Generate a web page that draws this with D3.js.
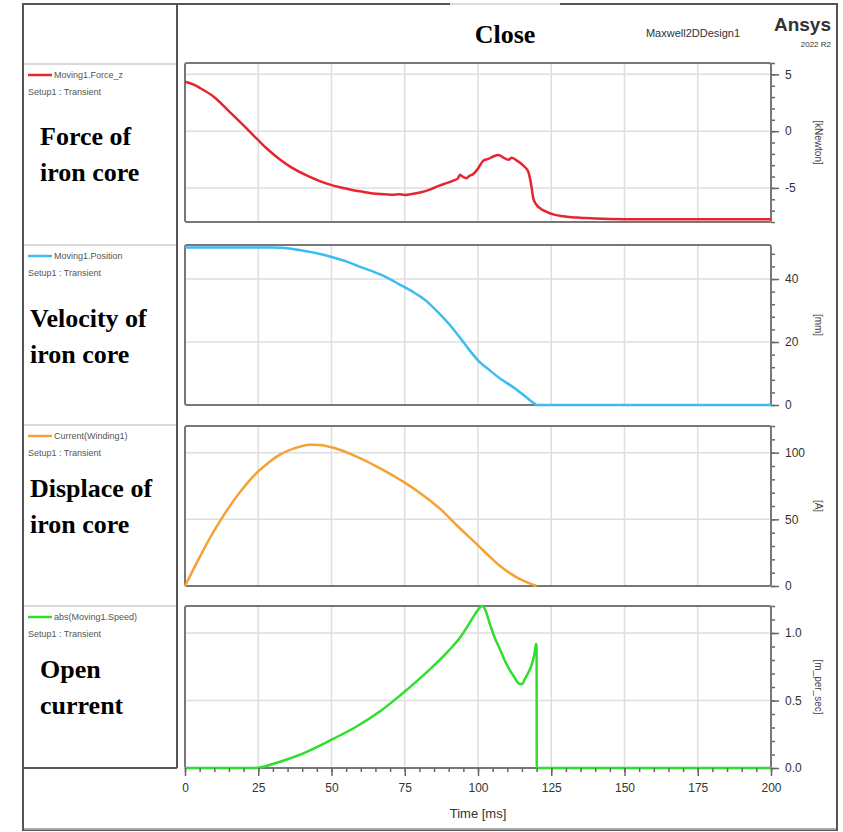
<!DOCTYPE html>
<html>
<head>
<meta charset="utf-8">
<script src="https://cdn.jsdelivr.net/npm/d3@7"></script>
<style>
  body { margin: 0; background: #fff; }
  text { font-family: "Liberation Sans", Arial, sans-serif; }
  .big { font-family: "Liberation Serif", "Times New Roman", serif; font-weight: bold; font-size: 26px; fill: #000; }
  .legend { font-size: 9px; fill: #555; }
  .axis text { font-size: 12px; fill: #333; }
  .axis path { display: none; }
  .axis line { stroke: #666; stroke-width: 1.5; }
</style>
</head>
<body>
<div id="chart"></div>
<script>
// time axis
var timeTicks = [0, 25, 50, 75, 100, 125, 150, 175, 200]

// Moving1.Force_z [kNewton]
var forceTime = [0, 3, 5.1, 9.7, 15.4, 20, 25, 28, 32.4, 36, 41.5, 46, 50, 54, 57.4, 61, 64.3, 68, 71.1, 73, 75, 77, 80.2, 84, 87, 89, 91.6, 93, 93.9, 95, 96.1, 97, 98.4, 100, 101.8, 103.5, 105.2, 107, 108.5, 110.4, 111.5, 113, 115.5, 117.2, 118.2, 118.9, 120, 121.5, 123.4, 126, 129.1, 132, 134.8, 140, 150, 200]
var forceVals = [4.35, 4.1, 3.8, 3.05, 1.65, 0.5, -0.8, -1.55, -2.5, -3.15, -3.9, -4.4, -4.75, -5.0, -5.2, -5.35, -5.5, -5.55, -5.6, -5.55, -5.62, -5.55, -5.4, -5.1, -4.78, -4.6, -4.35, -4.2, -3.85, -4.05, -4.14, -3.95, -3.77, -3.3, -2.6, -2.45, -2.23, -2.1, -2.3, -2.52, -2.35, -2.55, -3.04, -3.6, -4.8, -5.94, -6.5, -6.85, -7.1, -7.35, -7.5, -7.58, -7.62, -7.7, -7.75, -7.75]

// Moving1.Position [mm]
var posTime = [0, 10, 20, 30, 35, 39, 45, 50, 55, 60, 67, 73, 78, 82, 86, 90.4, 94, 97, 100, 104, 108, 111, 115, 119.5, 120, 200]
var posVals = [50, 50, 50, 50, 49.8, 49.2, 48.2, 47, 45.6, 43.8, 41.3, 38.4, 35.8, 33.3, 29.8, 25.4, 21.2, 17.5, 14.2, 11, 8.1, 6.3, 3.6, 0.3, 0, 0]

// Current(Winding1) [A]
var curTime = [0, 2.5, 5.1, 8.5, 11.9, 15, 18.8, 22, 25, 28.5, 32.4, 37, 42.7, 46, 50, 56, 62, 68, 75, 81, 87, 93, 100, 104, 107.5, 111, 114, 117, 120]
var curVals = [0, 11, 22, 36, 48.5, 59, 70.5, 79, 86, 92.5, 98.5, 103, 106, 105.8, 104, 99.5, 93.5, 86.5, 77.5, 68.5, 58, 45, 30.5, 22, 15, 9.5, 5.5, 2.5, 0]

// abs(Moving1.Speed) [m_per_sec]
var spdTime = [0, 15, 24, 30, 35, 40, 45, 50, 58, 66.6, 73, 80, 85, 90, 94, 97, 99, 100.7, 101.5, 102.5, 104, 106, 107.5, 109.5, 111, 112.5, 113.7, 115, 116, 117.5, 118.4, 119.3, 119.8, 120, 120.05, 200]
var spdVals = [0, 0, 0, 0.03, 0.065, 0.105, 0.155, 0.21, 0.3, 0.42, 0.53, 0.66, 0.76, 0.87, 0.97, 1.07, 1.14, 1.19, 1.2, 1.17, 1.07, 0.95, 0.88, 0.78, 0.72, 0.67, 0.63, 0.62, 0.66, 0.72, 0.77, 0.85, 0.92, 0.9, 0, 0]

var panelNames = ["Moving1.Force_z", "Moving1.Position", "Current(Winding1)", "abs(Moving1.Speed)"]
var panelUnits = ["[kNewton]", "[mm]", "[A]", "[m_per_sec]"]
var panelColours = ["#e8242c", "#3cbcf0", "#f5a234", "#2ee02a"]
var panelMajors = [[-5, 0, 5], [0, 20, 40], [0, 50, 100], [0, 0.5, 1.0]]
var panelMinorStep = [1, 4, 10, 0.1]
var panelDomains = [[-8, 6], [0, 50.8], [0, 120], [0, 1.2]]
var sideLabels = [["Force of", "iron core"], ["Velocity of", "iron core"], ["Displace of", "iron core"], ["Open", "current"]]

var series = [
  {t: forceTime, v: forceVals},
  {t: posTime, v: posVals},
  {t: curTime, v: curVals},
  {t: spdTime, v: spdVals}
]

var width = 843, height = 832
var svg = d3.select("#chart").append("svg")
    .attr("width", width)
    .attr("height", height)

// panel geometry
var panelTop = [63, 245, 426, 606]
var panelBottom = [222, 405, 586, 768]
var legendTop = [64, 245, 425, 606]
var sideLabelY = [145, 327, 497, 678]
var sideLabelX = [40, 30, 30, 40]
var plotLeft = 185, plotRight = 771

var xScale = d3.scaleLinear().domain([0, 200]).range([plotLeft, plotRight])

// outer frame
svg.append("rect")
  .attr("x", 23).attr("y", 4)
  .attr("width", 814).attr("height", 826)
  .attr("fill", "none").attr("stroke", "#555").attr("stroke-width", 2)
svg.append("line")
  .attr("x1", 450).attr("x2", 560).attr("y1", 4).attr("y2", 4)
  .attr("stroke", "#ddd").attr("stroke-width", 2)
svg.append("line")
  .attr("x1", 24).attr("x2", 836).attr("y1", 829).attr("y2", 829)
  .attr("stroke", "#aaa").attr("stroke-width", 2)

// legend column
svg.append("line")
  .attr("x1", 177).attr("x2", 177).attr("y1", 4).attr("y2", 768)
  .attr("stroke", "#555").attr("stroke-width", 2)
svg.append("line")
  .attr("x1", 23).attr("x2", 177).attr("y1", 768).attr("y2", 768)
  .attr("stroke", "#555").attr("stroke-width", 2)

// header
svg.append("text").attr("class", "big")
  .attr("x", 505).attr("y", 43).attr("text-anchor", "middle")
  .text("Close")
svg.append("text")
  .attr("x", 693).attr("y", 37).attr("text-anchor", "middle")
  .attr("font-size", 11).attr("fill", "#333")
  .text("Maxwell2DDesign1")
svg.append("text")
  .attr("x", 831).attr("y", 31).attr("text-anchor", "end")
  .attr("font-size", 19).attr("font-weight", "bold").attr("fill", "#333")
  .text("Ansys")
svg.append("text")
  .attr("x", 831).attr("y", 47).attr("text-anchor", "end")
  .attr("font-size", 8).attr("fill", "#333")
  .text("2022 R2")

series.forEach(function(s, i) {
  var yScale = d3.scaleLinear()
    .domain(panelDomains[i])
    .range([panelBottom[i], panelTop[i]])

  var g = svg.append("g")

  // legend block
  g.append("line")
    .attr("x1", 24).attr("x2", 176)
    .attr("y1", legendTop[i]).attr("y2", legendTop[i])
    .attr("stroke", "#ccc").attr("stroke-width", 1.5)
  g.append("line")
    .attr("x1", 28).attr("x2", 52)
    .attr("y1", legendTop[i] + 11).attr("y2", legendTop[i] + 11)
    .attr("stroke", panelColours[i]).attr("stroke-width", 2.5)
  g.append("text").attr("class", "legend")
    .attr("x", 54).attr("y", legendTop[i] + 14)
    .text(panelNames[i])
  g.append("text").attr("class", "legend")
    .attr("x", 28).attr("y", legendTop[i] + 31)
    .text("Setup1 : Transient")

  g.append("text").attr("class", "big")
    .attr("x", sideLabelX[i]).attr("y", sideLabelY[i])
    .text(sideLabels[i][0])
  g.append("text").attr("class", "big")
    .attr("x", sideLabelX[i]).attr("y", sideLabelY[i] + 36)
    .text(sideLabels[i][1])

  // grid
  g.selectAll(".hgrid")
    .data(panelMajors[i].filter(function(d) { return d !== panelDomains[i][0] }))
    .enter().append("line")
    .attr("x1", plotLeft).attr("x2", plotRight)
    .attr("y1", d => yScale(d)).attr("y2", d => yScale(d))
    .attr("stroke", "#dedede").attr("stroke-width", 1.5)
  g.selectAll(".vgrid")
    .data(timeTicks.slice(1, -1))
    .enter().append("line")
    .attr("x1", d => xScale(d)).attr("x2", d => xScale(d))
    .attr("y1", panelTop[i]).attr("y2", panelBottom[i])
    .attr("stroke", "#dedede").attr("stroke-width", 1.5)

  // right axis: minor then major
  var minorTicks = d3.range(panelDomains[i][0], panelDomains[i][1] + 1e-9, panelMinorStep[i])
  g.append("g")
    .attr("class", "axis")
    .attr("transform", "translate(" + plotRight + ",0)")
    .call(d3.axisRight(yScale).tickValues(minorTicks).tickSize(4).tickFormat(""))
  g.append("g")
    .attr("class", "axis")
    .attr("transform", "translate(" + plotRight + ",0)")
    .call(d3.axisRight(yScale).tickValues(panelMajors[i]).tickSize(8).tickPadding(6)
      .tickFormat(function(d) { return i === 3 ? d.toFixed(1) : String(d) }))

  g.append("text")
    .attr("transform", "translate(815," + ((panelTop[i] + panelBottom[i]) / 2) + ") rotate(90)")
    .attr("text-anchor", "middle")
    .attr("font-size", 10).attr("fill", "#444")
    .text(panelUnits[i])

  // frame
  g.append("rect")
    .attr("x", plotLeft).attr("y", panelTop[i])
    .attr("width", plotRight - plotLeft).attr("height", panelBottom[i] - panelTop[i])
    .attr("rx", 2)
    .attr("fill", "none").attr("stroke", "#777").attr("stroke-width", 2)

  // curve
  var line = d3.line()
    .x(function(d, k) { return xScale(s.t[k]) })
    .y(function(d) { return yScale(d) })
    .curve(d3.curveMonotoneX)
  g.append("path")
    .datum(s.v)
    .attr("d", line)
    .attr("fill", "none")
    .attr("stroke", panelColours[i])
    .attr("stroke-width", 2.5)
})

// time axis under last panel
var xMinor = d3.range(0, 201, 5)
svg.append("g")
  .attr("class", "axis")
  .attr("transform", "translate(0,768)")
  .call(d3.axisBottom(xScale).tickValues(xMinor).tickSize(4).tickFormat(""))
svg.append("g")
  .attr("class", "axis x-axis")
  .attr("transform", "translate(0,768)")
  .call(d3.axisBottom(xScale).tickValues(timeTicks).tickSize(8).tickPadding(7))
  .selectAll("text").attr("font-size", 13)

svg.append("text")
  .attr("x", 478).attr("y", 818)
  .attr("text-anchor", "middle")
  .attr("font-size", 13).attr("fill", "#333")
  .text("Time [ms]")
</script>
</body>
</html>
